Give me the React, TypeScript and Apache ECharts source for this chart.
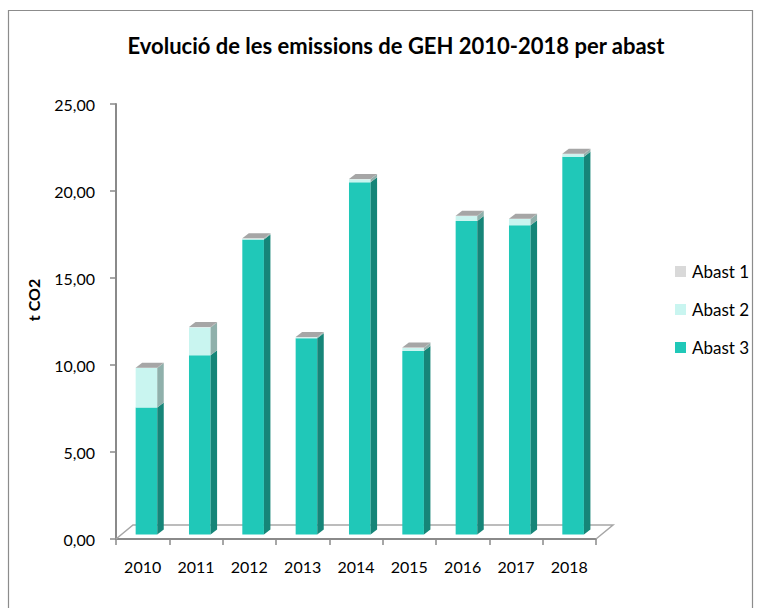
import React, { useEffect, useRef } from "react";
import * as echarts from "echarts";

const years = ["2010", "2011", "2012", "2013", "2014", "2015", "2016", "2017", "2018"];
const abast3 = [7.3, 10.3, 16.95, 11.28, 20.24, 10.55, 18.02, 17.77, 21.71];
const abast2 = [2.27, 1.6, 0.05, 0.05, 0.17, 0.17, 0.28, 0.36, 0.15];
const abast1 = [0.02, 0.02, 0.02, 0.02, 0.02, 0.02, 0.02, 0.02, 0.02];
const yTicks = [0, 5, 10, 15, 20, 25];

const FONT = "Lato";

const seriesDefs = [
  { name: "Abast 3", values: abast3, front: "#20c8b8", side: "#168578", top: "#5fd8cc" },
  { name: "Abast 2", values: abast2, front: "#c9f5f0", side: "#8fb0ab", top: "#b0dcd7" },
  { name: "Abast 1", values: abast1, front: "#d9d9d9", side: "#969696", top: "#a6a6a6" },
];

export default function App() {
  const ref = useRef<HTMLDivElement>(null);
  useEffect(() => {
    if (!ref.current) return;
    const chart = echarts.init(ref.current, null, { renderer: "svg" });

    const bases: number[] = years.map(() => 0);
    const barSeries = seriesDefs.map((def, si) => {
      const data = years.map((_, i) => {
        const b = bases[i];
        const t = b + def.values[i];
        bases[i] = t;
        return [i, b, t];
      });
      const isTop = si === seriesDefs.length - 1;
      return {
        type: "custom",
        name: def.name,
        itemStyle: { color: def.front },
        encode: { x: 0, y: 2 },
        data,
        z: 3,
        renderItem: (params: any, api: any) => {
          const idx = api.value(0);
          const base = api.value(1);
          const top = api.value(2);
          const p0 = api.coord([idx, base]);
          const p1 = api.coord([idx, top]);
          const band = api.size([1, 0])[0];
          const w = band * 0.405;
          const cx = p0[0] + band * 0.071;
          const yOff = -4.5;
          const x0 = cx - w / 2;
          const x1 = cx + w / 2;
          const yb = p0[1] + yOff;
          const yt = p1[1] + yOff;
          const dx = 6.5;
          const dy = -5;
          const children: any[] = [
            {
              type: "rect",
              shape: { x: x0, y: yt, width: w, height: Math.max(yb - yt, 0) },
              style: { fill: def.front },
            },
            {
              type: "polygon",
              shape: {
                points: [
                  [x1, yb],
                  [x1 + dx, yb + dy],
                  [x1 + dx, yt + dy],
                  [x1, yt],
                ],
              },
              style: { fill: def.side },
            },
          ];
          if (isTop) {
            children.push({
              type: "polygon",
              shape: {
                points: [
                  [x0, yt],
                  [x1, yt],
                  [x1 + dx, yt + dy],
                  [x0 + dx, yt + dy],
                ],
              },
              style: { fill: def.top },
            });
          }
          return { type: "group", children };
        },
      };
    });

    const floorSeries = {
      type: "custom",
      name: "floor",
      silent: true,
      z: 1,
      data: [[0, 0, 0]],
      encode: { x: 0, y: 2 },
      renderItem: (params: any, api: any) => {
        const cs = params.coordSys;
        const xl = cs.x;
        const xr = cs.x + cs.width;
        const yf = cs.y + cs.height;
        const ddx = 17;
        const ddy = -14;
        return {
          type: "polyline",
          shape: {
            points: [
              [xl, yf],
              [xl + ddx, yf + ddy],
              [xr + ddx, yf + ddy],
              [xr, yf],
            ],
          },
          style: { stroke: "#a6a6a6", lineWidth: 1.5, fill: "none" },
        };
      },
    };

    chart.setOption({
      animation: false,
      backgroundColor: "#ffffff",
      title: {
        text: "Evolució de les emissions de GEH 2010-2018 per abast",
        left: 391,
        top: 29,
        textAlign: "center",
        textStyle: { fontFamily: FONT, fontSize: 22, fontWeight: "bold", color: "#000" },
      },
      legend: {
        orient: "vertical",
        left: 670,
        top: 258,
        itemWidth: 11,
        itemHeight: 11,
        itemGap: 21,
        icon: "rect",
        textStyle: { fontFamily: FONT, fontSize: 17, color: "#000", padding: [0, 0, 0, 1] },
        data: ["Abast 1", "Abast 2", "Abast 3"],
      },
      grid: { left: 116, right: 164, top: 104, bottom: 69 },
      xAxis: {
        type: "category",
        data: years,
        boundaryGap: true,
        axisLine: { lineStyle: { color: "#8a8a8a", width: 2 } },
        axisTick: { show: true, length: 6, lineStyle: { color: "#8a8a8a", width: 1.5 } },
        axisLabel: { fontFamily: FONT, fontSize: 16, color: "#000", margin: 19 },
        splitLine: { show: false },
      },
      yAxis: {
        type: "value",
        min: yTicks[0],
        max: yTicks[yTicks.length - 1],
        interval: 5,
        axisLine: { show: true, lineStyle: { color: "#8a8a8a", width: 2 } },
        axisTick: { show: true, length: 6, lineStyle: { color: "#8a8a8a", width: 1.5 } },
        axisLabel: {
          fontFamily: FONT,
          fontSize: 16,
          color: "#000",
          margin: 21,
          formatter: (v: number) => v.toFixed(2).replace(".", ","),
        },
        splitLine: { show: false },
      },
      graphic: [
        {
          type: "rect",
          shape: { x: 8.5, y: 10.5, width: 744, height: 610 },
          style: { fill: "none", stroke: "#8c8c8c", lineWidth: 1.2 },
          silent: true,
          z: -10,
        },
        {
          type: "text",
          x: 33,
          y: 300,
          rotation: Math.PI / 2,
          style: {
            text: "t CO2",
            fontFamily: FONT,
            fontSize: 16,
            fontWeight: "bold",
            fill: "#000",
            align: "center",
            verticalAlign: "middle",
          },
        },
      ],
      series: [floorSeries, ...barSeries],
    });

    return () => chart.dispose();
  }, []);

  return (
    <div
      ref={ref}
      style={{ position: "absolute", left: 0, top: 0, width: 760, height: 608 }}
    />
  );
}
